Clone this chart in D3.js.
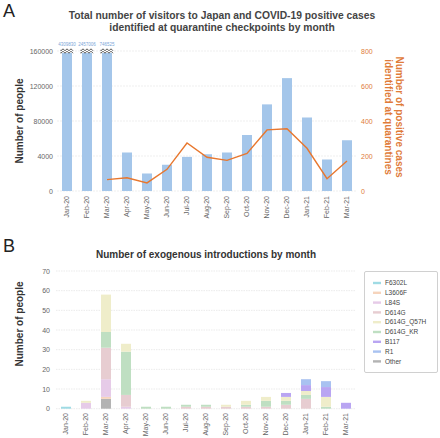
<!DOCTYPE html>
<html><head><meta charset="utf-8">
<script src="https://cdn.jsdelivr.net/npm/d3@7"></script>
<style>body{margin:0;background:#fff}svg{display:block}text{font-family:"Liberation Sans",Arial,sans-serif}</style>
</head><body>
<script>
const months = ["Jan-20","Feb-20","Mar-20","Apr-20","May-20","Jun-20","Jul-20","Aug-20","Sep-20","Oct-20","Nov-20","Dec-20","Jan-21","Feb-21","Mar-21"];
const visitors = [4309830,2457006,746525,44000,20000,30000,39000,42000,44000,64000,99000,129000,84000,36000,58000];
const positives = [null,null,65,76,46,124,274,193,175,215,349,356,244,70,171];
const leftTicks = [0,40000,80000,120000,160000];
const leftTickLabels = ["0","4000","80000","120000","160000"];
const rightTicks = [0,200,400,600,800];
const bTicks = [0,10,20,30,40,50,60,70];
const lineages = ["F6302L","L3606F","L84S","D614G","D614G_Q57H","D614G_KR","B117","R1","Other"];
const lineageColors = ["#9fdbe4","#f6d4bc","#e6cbe8","#e7cdd1","#efedca","#bfdfc2","#b9a5f2","#a9c2f1","#b3b3b3"];
const stackOrder = ["Other","F6302L","L3606F","L84S","D614G","D614G_KR","D614G_Q57H","B117","R1"];
const F6302L     = [1,0,0,0,0,0,0,0,0,0,0,0,0,0,0];
const L3606F     = [0,0,1,0,0,0,0,0,0,0,0,0,0,0,0];
const L84S       = [0,3,9,1,0,0,0,0,0,0,0,0,0,0,0];
const D614G      = [0,0,16,6,0,0,1,1,1,1,1,2,5,0,0];
const D614G_Q57H = [0,1,19,4,0,0,0,0,1,2,2,2,2,5,0];
const D614G_KR   = [0,0,8,22,1,1,1,1,0,1,3,2,2,1,0];
const B117       = [0,0,0,0,0,0,0,0,0,0,0,2,3,5,3];
const R1         = [0,0,0,0,0,0,0,0,0,0,0,0,3,3,0];
const Other      = [0,0,5,0,0,0,0,0,0,0,0,0,0,0,0];
const seriesB = {F6302L,L3606F,L84S,D614G,D614G_Q57H,D614G_KR,B117,R1,Other};

const W=440,H=438;
const svg=d3.select("body").append("svg").attr("width",W).attr("height",H);
const blue="#a4c6ea", orange="#e8772e", orangeT="#e07b39";

// Panel labels
svg.append("text").attr("x",3).attr("y",17).attr("font-size",18).attr("fill","#222").text("A");
svg.append("text").attr("x",3).attr("y",252).attr("font-size",18).attr("fill","#222").text("B");

// ---------- Panel A ----------
const x = d3.scaleBand().domain(months).range([57,357]).paddingInner(0.5).paddingOuter(0.25);
const yL = d3.scaleLinear().domain([0,160000]).range([191,51]).clamp(true);
const yR = d3.scaleLinear().domain([0,800]).range([191,51]);

svg.append("text").attr("x",222).attr("y",19).attr("text-anchor","middle").attr("font-size",10.3).attr("font-weight","bold").attr("fill","#444")
  .text("Total number of visitors to Japan and COVID-19 positive cases");
svg.append("text").attr("x",222).attr("y",31).attr("text-anchor","middle").attr("font-size",10.3).attr("font-weight","bold").attr("fill","#444")
  .text("identified at quarantine checkpoints by month");

const gA = svg.append("g");
gA.selectAll("line.grid").data(leftTicks).join("line").attr("x1",57).attr("x2",357)
  .attr("y1",d=>yL(d)).attr("y2",d=>yL(d)).attr("stroke","#e8e8e8").attr("stroke-width",0.7).attr("stroke-dasharray","2,1");

const axL = d3.axisLeft(yL).tickValues(leftTicks).tickFormat((d,i)=>leftTickLabels[i]).tickSize(0).tickPadding(4);
const gl = svg.append("g").attr("transform","translate(57,0)").call(axL);
gl.select(".domain").remove();
gl.selectAll("text").attr("font-size",7).attr("fill","#666");

const axR = d3.axisRight(yR).tickValues(rightTicks).tickSize(0).tickPadding(4);
const gr = svg.append("g").attr("transform","translate(357,0)").call(axR);
gr.select(".domain").remove();
gr.selectAll("text").attr("font-size",7).attr("fill",orangeT);

gA.selectAll("rect.bar").data(visitors).join("rect")
  .attr("x",(d,i)=>x(months[i])).attr("width",x.bandwidth())
  .attr("y",d=>yL(d)).attr("height",d=>yL(0)-yL(d)).attr("fill",blue);

// break marks & labels for clipped bars
visitors.forEach((v,i)=>{
  if(v>160000){
    const x0=x(months[i]), bw=x.bandwidth(), y0=yL(160000);
    const g=gA.append("g");
    g.append("rect").attr("x",x0-1).attr("y",y0-2).attr("width",bw+2).attr("height",4).attr("fill","#fff");
    [-1.2,1.2].forEach(off=>{
      let p="M"+(x0-1)+","+(y0+off);
      for(let k=0;k<=6;k++){p+=" L"+(x0-1+k*(bw+2)/6)+","+(y0+off+(k%2?-1:1));}
      g.append("path").attr("d",p).attr("fill","none").attr("stroke","#444").attr("stroke-width",0.9);
    });
    svg.append("text").attr("x",x0+bw/2).attr("y",y0-5).attr("text-anchor","middle").attr("font-size",4.5).attr("fill","#7aa6d8").text(v);
  }
});

const line = d3.line().defined(d=>d!==null).x((d,i)=>x(months[i])+x.bandwidth()/2).y(d=>yR(d));
gA.append("path").datum(positives).attr("d",line).attr("fill","none").attr("stroke",orange).attr("stroke-width",1.4);

const axXA = d3.axisBottom(x).tickSize(0).tickPadding(0);
const gxa = svg.append("g").attr("transform","translate(0,194)").call(axXA);
gxa.select(".domain").remove();
gxa.selectAll("text").attr("font-size",7).attr("fill","#666").attr("transform","rotate(-90)")
  .attr("text-anchor","end").attr("dx",0).attr("dy","0.32em").attr("y",0).attr("x",-2);

svg.append("text").attr("transform","translate(23,121) rotate(-90)").attr("text-anchor","middle").attr("font-size",10).attr("font-weight","bold").attr("fill","#333").text("Number of people");
const rt = svg.append("text").attr("transform","translate(396,117) rotate(90)").attr("text-anchor","middle").attr("font-size",10).attr("font-weight","bold").attr("fill",orangeT);
rt.append("tspan").attr("x",0).attr("y",0).text("Number of  positive cases");
rt.append("tspan").attr("x",0).attr("y",11).text("identified at quarantines");

// ---------- Panel B ----------
const xB = d3.scaleBand().domain(months).range([56,356]).paddingInner(0.5).paddingOuter(0.25);
const yB = d3.scaleLinear().domain([0,70]).range([408.7,271]);
svg.append("text").attr("x",206).attr("y",258).attr("text-anchor","middle").attr("font-size",10).attr("font-weight","bold").attr("fill","#333").text("Number of exogenous introductions by month");
const gB = svg.append("g");
gB.selectAll("line.grid").data(bTicks).join("line").attr("x1",56).attr("x2",356)
  .attr("y1",d=>yB(d)).attr("y2",d=>yB(d)).attr("stroke","#e2e2e2").attr("stroke-width",0.7).attr("stroke-dasharray","1.5,1");
const axB = d3.axisLeft(yB).tickValues(bTicks).tickSize(0).tickPadding(6);
const gbl = svg.append("g").attr("transform","translate(56,0)").call(axB);
gbl.select(".domain").remove();
gbl.selectAll("text").attr("font-size",7).attr("fill","#666");

const tableB = months.map((m,i)=>{const o={month:m}; lineages.forEach(l=>o[l]=seriesB[l][i]); return o;});
const stacked = d3.stack().keys(stackOrder)(tableB);
const colorOf = d3.scaleOrdinal().domain(lineages).range(lineageColors);
gB.selectAll("g.layer").data(stacked).join("g").attr("fill",d=>colorOf(d.key))
  .selectAll("rect").data(d=>d).join("rect")
  .attr("x",d=>xB(d.data.month)).attr("width",xB.bandwidth())
  .attr("y",d=>yB(d[1])).attr("height",d=>yB(d[0])-yB(d[1]));

const gxb = svg.append("g").attr("transform","translate(0,411)").call(d3.axisBottom(xB).tickSize(0).tickPadding(0));
gxb.select(".domain").remove();
gxb.selectAll("text").attr("font-size",7).attr("fill","#666").attr("transform","rotate(-90)")
  .attr("text-anchor","end").attr("dy","0.32em").attr("y",0).attr("x",-2);

svg.append("text").attr("transform","translate(23,324) rotate(-90)").attr("text-anchor","middle").attr("font-size",10).attr("font-weight","bold").attr("fill","#333").text("Number of people");

// legend
const lg = svg.append("g");
lg.append("rect").attr("x",364.5).attr("y",271.5).attr("width",73).attr("height",101).attr("fill","#fff").attr("stroke","#d0d0d0").attr("rx",1.5);
lineages.forEach((l,i)=>{
  const yy=283+i*9.8;
  lg.append("rect").attr("x",373).attr("y",yy-1.2).attr("width",8).attr("height",2.4).attr("fill",lineageColors[i]);
  lg.append("text").attr("x",385).attr("y",yy).attr("dy","0.35em").attr("font-size",6.5).attr("fill","#444").text(l);
});
</script>
</body></html>
